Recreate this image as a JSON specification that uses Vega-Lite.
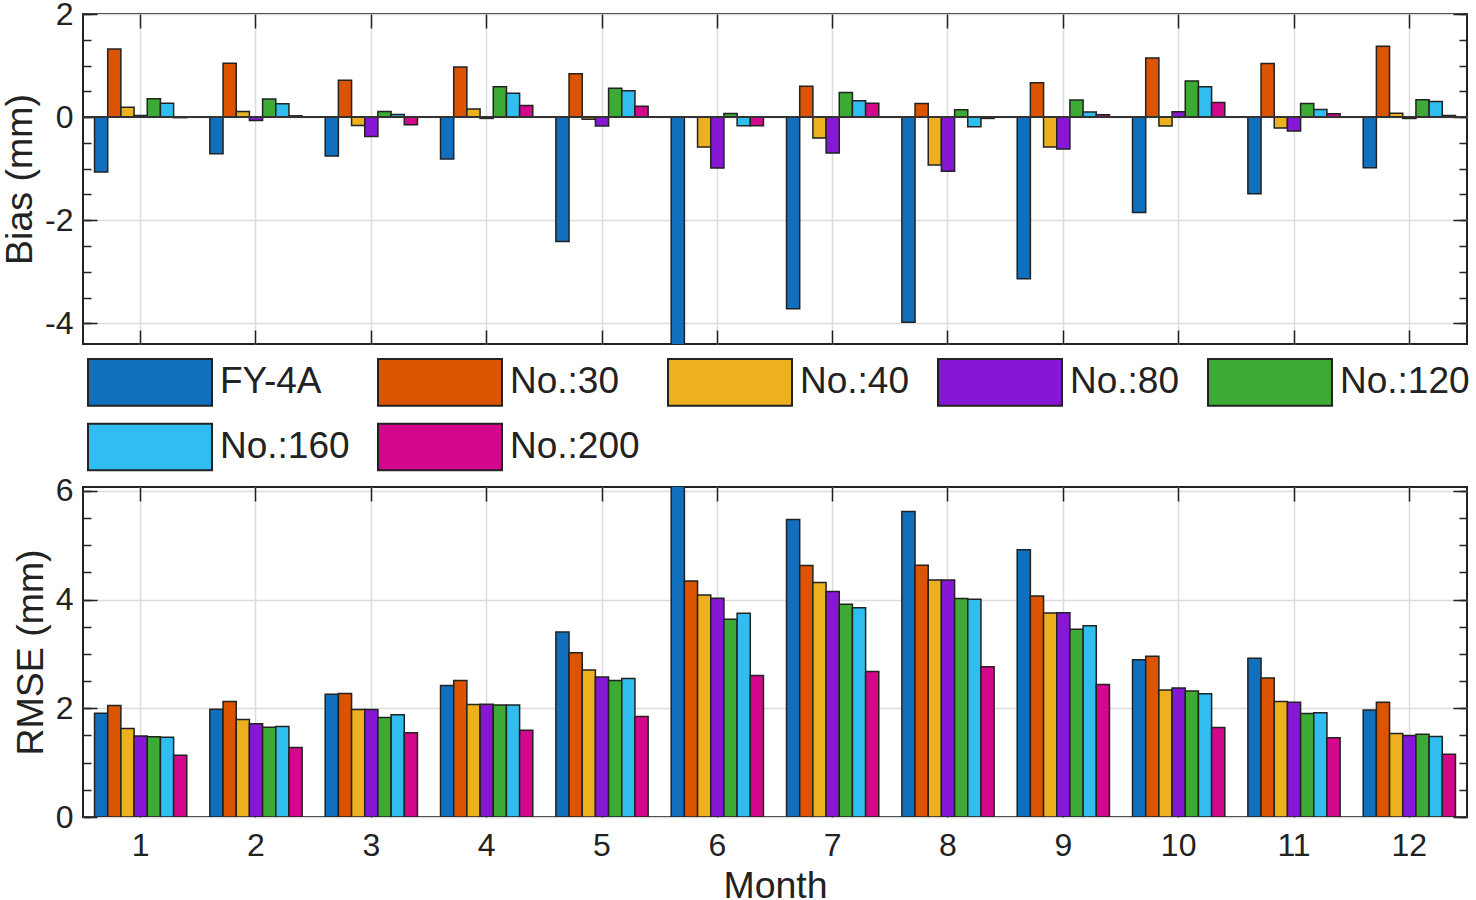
{
  "$schema": "https://vega.github.io/schema/vega-lite/v6.json",
  "padding": {"left": 0, "top": -3, "right": 0, "bottom": 0},
  "background": "white",
  "config": {
    "font": "Liberation Sans",
    "view": {"stroke": "#222222", "strokeWidth": 2},
    "axis": {
      "labelFont": "Liberation Sans", "labelFontSize": 32, "labelColor": "#222222",
      "titleFont": "Liberation Sans", "titleFontSize": 37.5, "titleFontWeight": "normal", "titleColor": "#222222",
      "tickColor": "#222222", "tickWidth": 1.5, "gridColor": "#dcdcdc", "gridWidth": 1.5,
      "domain": false, "labelOverlap": false, "zindex": 1
    }
  },
  "datasets": {
    "d": [
      {"m": 1, "s": "FY-4A", "bias": -1.065, "rmse": 1.91},
      {"m": 1, "s": "No.:30", "bias": 1.32, "rmse": 2.05},
      {"m": 1, "s": "No.:40", "bias": 0.19, "rmse": 1.63},
      {"m": 1, "s": "No.:80", "bias": 0.03, "rmse": 1.49},
      {"m": 1, "s": "No.:120", "bias": 0.355, "rmse": 1.474},
      {"m": 1, "s": "No.:160", "bias": 0.27, "rmse": 1.468},
      {"m": 1, "s": "No.:200", "bias": -0.01, "rmse": 1.136},
      {"m": 2, "s": "FY-4A", "bias": -0.71, "rmse": 1.984},
      {"m": 2, "s": "No.:30", "bias": 1.045, "rmse": 2.125},
      {"m": 2, "s": "No.:40", "bias": 0.11, "rmse": 1.794},
      {"m": 2, "s": "No.:80", "bias": -0.065, "rmse": 1.714},
      {"m": 2, "s": "No.:120", "bias": 0.35, "rmse": 1.652},
      {"m": 2, "s": "No.:160", "bias": 0.26, "rmse": 1.665},
      {"m": 2, "s": "No.:200", "bias": 0.025, "rmse": 1.278},
      {"m": 3, "s": "FY-4A", "bias": -0.755, "rmse": 2.26},
      {"m": 3, "s": "No.:30", "bias": 0.716, "rmse": 2.273},
      {"m": 3, "s": "No.:40", "bias": -0.16, "rmse": 1.978},
      {"m": 3, "s": "No.:80", "bias": -0.374, "rmse": 1.978},
      {"m": 3, "s": "No.:120", "bias": 0.11, "rmse": 1.83},
      {"m": 3, "s": "No.:160", "bias": 0.05, "rmse": 1.88},
      {"m": 3, "s": "No.:200", "bias": -0.148, "rmse": 1.548},
      {"m": 4, "s": "FY-4A", "bias": -0.81, "rmse": 2.42},
      {"m": 4, "s": "No.:30", "bias": 0.97, "rmse": 2.512},
      {"m": 4, "s": "No.:40", "bias": 0.16, "rmse": 2.07},
      {"m": 4, "s": "No.:80", "bias": -0.025, "rmse": 2.076},
      {"m": 4, "s": "No.:120", "bias": 0.587, "rmse": 2.058},
      {"m": 4, "s": "No.:160", "bias": 0.465, "rmse": 2.058},
      {"m": 4, "s": "No.:200", "bias": 0.226, "rmse": 1.597},
      {"m": 5, "s": "FY-4A", "bias": -2.41, "rmse": 3.403},
      {"m": 5, "s": "No.:30", "bias": 0.84, "rmse": 3.022},
      {"m": 5, "s": "No.:40", "bias": -0.04, "rmse": 2.703},
      {"m": 5, "s": "No.:80", "bias": -0.17, "rmse": 2.574},
      {"m": 5, "s": "No.:120", "bias": 0.56, "rmse": 2.512},
      {"m": 5, "s": "No.:160", "bias": 0.51, "rmse": 2.549},
      {"m": 5, "s": "No.:200", "bias": 0.21, "rmse": 1.849},
      {"m": 6, "s": "FY-4A", "bias": -4.6, "rmse": 6.3},
      {"m": 6, "s": "No.:30", "bias": 0.0, "rmse": 4.343},
      {"m": 6, "s": "No.:40", "bias": -0.58, "rmse": 4.085},
      {"m": 6, "s": "No.:80", "bias": -0.987, "rmse": 4.023},
      {"m": 6, "s": "No.:120", "bias": 0.07, "rmse": 3.636},
      {"m": 6, "s": "No.:160", "bias": -0.168, "rmse": 3.747},
      {"m": 6, "s": "No.:200", "bias": -0.168, "rmse": 2.604},
      {"m": 7, "s": "FY-4A", "bias": -3.716, "rmse": 5.473},
      {"m": 7, "s": "No.:30", "bias": 0.6, "rmse": 4.625},
      {"m": 7, "s": "No.:40", "bias": -0.406, "rmse": 4.312},
      {"m": 7, "s": "No.:80", "bias": -0.697, "rmse": 4.146},
      {"m": 7, "s": "No.:120", "bias": 0.477, "rmse": 3.913},
      {"m": 7, "s": "No.:160", "bias": 0.316, "rmse": 3.851},
      {"m": 7, "s": "No.:200", "bias": 0.27, "rmse": 2.678},
      {"m": 8, "s": "FY-4A", "bias": -3.98, "rmse": 5.62},
      {"m": 8, "s": "No.:30", "bias": 0.265, "rmse": 4.631},
      {"m": 8, "s": "No.:40", "bias": -0.93, "rmse": 4.361},
      {"m": 8, "s": "No.:80", "bias": -1.05, "rmse": 4.361},
      {"m": 8, "s": "No.:120", "bias": 0.142, "rmse": 4.017},
      {"m": 8, "s": "No.:160", "bias": -0.187, "rmse": 4.005},
      {"m": 8, "s": "No.:200", "bias": -0.025, "rmse": 2.764},
      {"m": 9, "s": "FY-4A", "bias": -3.135, "rmse": 4.914},
      {"m": 9, "s": "No.:30", "bias": 0.665, "rmse": 4.066},
      {"m": 9, "s": "No.:40", "bias": -0.58, "rmse": 3.753},
      {"m": 9, "s": "No.:80", "bias": -0.62, "rmse": 3.759},
      {"m": 9, "s": "No.:120", "bias": 0.33, "rmse": 3.452},
      {"m": 9, "s": "No.:160", "bias": 0.097, "rmse": 3.52},
      {"m": 9, "s": "No.:200", "bias": 0.045, "rmse": 2.439},
      {"m": 10, "s": "FY-4A", "bias": -1.85, "rmse": 2.893},
      {"m": 10, "s": "No.:30", "bias": 1.148, "rmse": 2.955},
      {"m": 10, "s": "No.:40", "bias": -0.174, "rmse": 2.334},
      {"m": 10, "s": "No.:80", "bias": 0.103, "rmse": 2.371},
      {"m": 10, "s": "No.:120", "bias": 0.703, "rmse": 2.316},
      {"m": 10, "s": "No.:160", "bias": 0.587, "rmse": 2.267},
      {"m": 10, "s": "No.:200", "bias": 0.284, "rmse": 1.646},
      {"m": 11, "s": "FY-4A", "bias": -1.484, "rmse": 2.918},
      {"m": 11, "s": "No.:30", "bias": 1.039, "rmse": 2.555},
      {"m": 11, "s": "No.:40", "bias": -0.213, "rmse": 2.125},
      {"m": 11, "s": "No.:80", "bias": -0.27, "rmse": 2.113},
      {"m": 11, "s": "No.:120", "bias": 0.265, "rmse": 1.904},
      {"m": 11, "s": "No.:160", "bias": 0.148, "rmse": 1.916},
      {"m": 11, "s": "No.:200", "bias": 0.065, "rmse": 1.456},
      {"m": 12, "s": "FY-4A", "bias": -0.98, "rmse": 1.966},
      {"m": 12, "s": "No.:30", "bias": 1.374, "rmse": 2.113},
      {"m": 12, "s": "No.:40", "bias": 0.077, "rmse": 1.536},
      {"m": 12, "s": "No.:80", "bias": -0.026, "rmse": 1.499},
      {"m": 12, "s": "No.:120", "bias": 0.335, "rmse": 1.523},
      {"m": 12, "s": "No.:160", "bias": 0.303, "rmse": 1.48},
      {"m": 12, "s": "No.:200", "bias": 0.03, "rmse": 1.155}
    ]
  },
  "data": {"name": "d"},
  "bounds": "flush",
  "spacing": 143,
  "resolve": {"legend": {"color": "independent"}},
  "vconcat": [
    {
      "width": 1384,
      "height": 330,
      "layer": [
        {
          "mark": {"type": "bar", "stroke": "#222222", "strokeWidth": 1.5, "clip": true},
          "encoding": {
            "x": {"field": "m", "type": "ordinal",
              "scale": {"type": "band", "paddingInner": 0.2, "paddingOuter": 0.1},
              "axis": {"orient": "bottom", "labels": false, "title": null, "tickSize": -14, "grid": true, "bandPosition": 0.5}},
            "xOffset": {"field": "s", "type": "nominal",
              "sort": ["FY-4A", "No.:30", "No.:40", "No.:80", "No.:120", "No.:160", "No.:200"],
              "scale": {"paddingInner": 0, "paddingOuter": 0}},
            "y": {"field": "bias", "type": "quantitative",
              "scale": {"domain": [-4.4, 2], "nice": false, "zero": false},
              "axis": {"orient": "left", "values": [-4, -2, 0, 2], "tickSize": -14, "labelPadding": 24, "grid": true,
                "labelExpr": "'' + datum.value", "title": "Bias (mm)", "titlePadding": 5}},
            "color": {"field": "s", "type": "nominal",
              "scale": {"domain": ["FY-4A", "No.:30", "No.:40", "No.:80", "No.:120", "No.:160", "No.:200"],
                "range": ["#1170be", "#dc5400", "#edb120", "#8617d4", "#3caa35", "#30bef0", "#d2078b"]},
              "legend": {"orient": "bottom", "direction": "horizontal", "columns": 5, "title": null,
                "symbolType": "M-2.583,-0.97H2.583V0.97H-2.583Z", "symbolSize": 2304, "symbolOffset": 42,
                "symbolStrokeColor": "#222222", "symbolStrokeWidth": 2, "symbolOpacity": 1,
                "labelFont": "Liberation Sans", "labelFontSize": 37, "labelColor": "#222222",
                "labelOffset": 45, "columnPadding": 23, "rowPadding": 9, "offset": 12, "padding": 0, "labelLimit": 0}}
          }
        },
        {
          "mark": {"type": "bar", "opacity": 0, "clip": true},
          "encoding": {
            "x": {"field": "m", "type": "ordinal",
              "axis": {"orient": "top", "labels": false, "title": null, "tickSize": -14, "grid": false, "bandPosition": 0.5}},
            "y": {"field": "bias", "type": "quantitative",
              "axis": {"orient": "right", "values": [-4, -2, 0, 2], "tickSize": -14, "labels": false, "title": null, "grid": false}}
          }
        },
        {
          "mark": {"type": "rule", "color": "#333333", "strokeWidth": 1.5},
          "encoding": {
            "y": {"datum": 0, "type": "quantitative",
              "axis": {"orient": "left", "values": [-4, -3.5, -3, -2.5, -2, -1.5, -1, -0.5, 0, 0.5, 1, 1.5, 2],
                "tickSize": -8, "labels": false, "title": null, "grid": false}}
          }
        },
        {
          "mark": {"type": "rule", "opacity": 0},
          "encoding": {
            "y": {"datum": 0, "type": "quantitative",
              "axis": {"orient": "right", "values": [-4, -3.5, -3, -2.5, -2, -1.5, -1, -0.5, 0, 0.5, 1, 1.5, 2],
                "tickSize": -8, "labels": false, "title": null, "grid": false}}
          }
        }
      ],
      "resolve": {"axis": {"x": "independent", "y": "independent"}}
    },
    {
      "width": 1384,
      "height": 330,
      "layer": [
        {
          "mark": {"type": "bar", "stroke": "#222222", "strokeWidth": 1.5, "clip": true},
          "encoding": {
            "x": {"field": "m", "type": "ordinal",
              "scale": {"type": "band", "paddingInner": 0.2, "paddingOuter": 0.1},
              "axis": {"orient": "bottom", "labels": true, "labelAngle": 0, "title": "Month", "titlePadding": 6,
                "labelPadding": 27, "tickSize": -14, "grid": true, "bandPosition": 0.5}},
            "xOffset": {"field": "s", "type": "nominal",
              "sort": ["FY-4A", "No.:30", "No.:40", "No.:80", "No.:120", "No.:160", "No.:200"],
              "scale": {"paddingInner": 0, "paddingOuter": 0}},
            "y": {"field": "rmse", "type": "quantitative",
              "scale": {"domain": [0, 6.07], "nice": false, "zero": false},
              "axis": {"orient": "left", "values": [0, 2, 4, 6], "tickSize": -14, "labelPadding": 24, "grid": true,
                "labelExpr": "'' + datum.value", "title": "RMSE (mm)", "titlePadding": 5}},
            "color": {"field": "s", "type": "nominal",
              "scale": {"domain": ["FY-4A", "No.:30", "No.:40", "No.:80", "No.:120", "No.:160", "No.:200"],
                "range": ["#1170be", "#dc5400", "#edb120", "#8617d4", "#3caa35", "#30bef0", "#d2078b"]},
              "legend": null}
          }
        },
        {
          "mark": {"type": "bar", "opacity": 0, "clip": true},
          "encoding": {
            "x": {"field": "m", "type": "ordinal",
              "axis": {"orient": "top", "labels": false, "title": null, "tickSize": -14, "grid": false, "bandPosition": 0.5}},
            "y": {"field": "rmse", "type": "quantitative",
              "axis": {"orient": "right", "values": [0, 2, 4, 6], "tickSize": -14, "labels": false, "title": null, "grid": false}}
          }
        },
        {
          "mark": {"type": "rule", "opacity": 0},
          "encoding": {
            "y": {"datum": 0, "type": "quantitative",
              "axis": {"orient": "left", "values": [0, 0.5, 1, 1.5, 2, 2.5, 3, 3.5, 4, 4.5, 5, 5.5, 6],
                "tickSize": -8, "labels": false, "title": null, "grid": false}}
          }
        },
        {
          "mark": {"type": "rule", "opacity": 0},
          "encoding": {
            "y": {"datum": 0, "type": "quantitative",
              "axis": {"orient": "right", "values": [0, 0.5, 1, 1.5, 2, 2.5, 3, 3.5, 4, 4.5, 5, 5.5, 6],
                "tickSize": -8, "labels": false, "title": null, "grid": false}}
          }
        }
      ],
      "resolve": {"axis": {"x": "independent", "y": "independent"}}
    }
  ]
}
